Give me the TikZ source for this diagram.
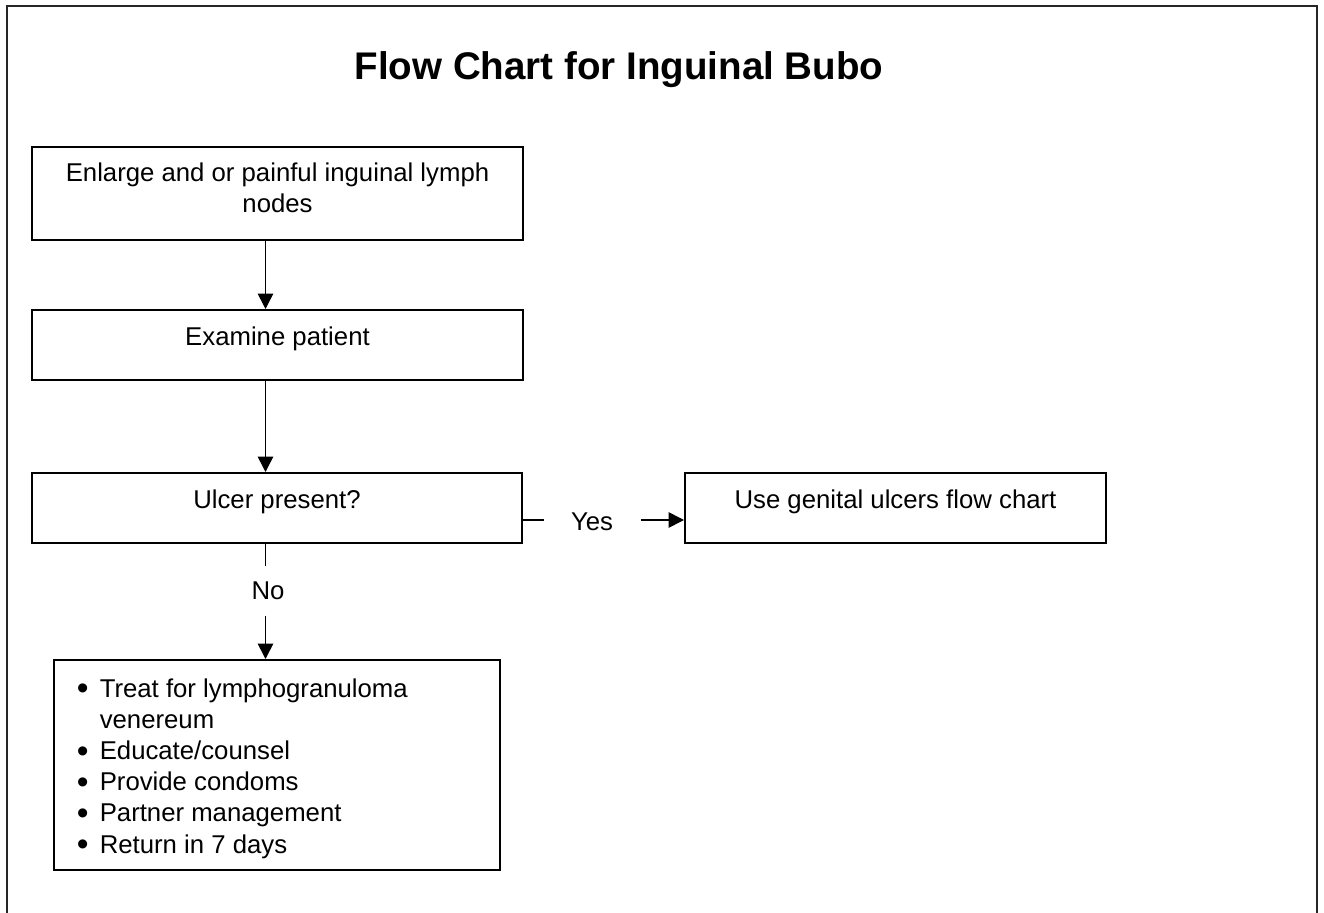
\documentclass[tikz,border=0pt]{standalone}
\usepackage{fontspec}
\setmainfont{Liberation Sans}
\usetikzlibrary{arrows.meta}

\newcommand{\bigdot}{\raisebox{-2.2pt}{\scalebox{1.3}{\textbullet}}}

\tikzset{every picture/.style={line width=0.75pt}}
\tikzset{
  bodyfont/.style={font=\fontsize{19.3pt}{22.5pt}\selectfont},
  chartbox/.style={draw, line width=1.5pt, inner sep=0pt, align=center, bodyfont},
  oneline/.style={text height=26.25pt, text depth=26.25pt},
  gap/.style={inner sep=0pt, bodyfont},
  link/.style={line width=1.2pt},
  arrow/.style={link, -{Triangle[length=11.5pt,width=11.5pt]}},
  frame/.style={draw=black!85, line width=2pt},
}

\begin{document}
\begin{tikzpicture}[x=0.75pt,y=0.75pt,yscale=-1,xscale=1]
\useasboundingbox (0,0) rectangle (1324,913);

%Page frame, open at the bottom
\draw[frame] (7,913) -- (7,6) -- (1317,6) -- (1317,913);

%Title
\node[font=\fontsize{28.9pt}{34pt}\selectfont\bfseries, anchor=base] (title) at (619,80) {Flow Chart for Inguinal Bubo};

%Shape: Rectangle [enlarge]
\node[chartbox, minimum width=368.25pt, text height=48.75pt, text depth=21pt] (enlarge) at (277.5,193.5)
  {Enlarge and or painful inguinal lymph\\nodes};
%Shape: Rectangle [examine]
\node[chartbox, oneline, minimum width=368.25pt] (examine) at (277.5,345) {Examine patient};
%Shape: Rectangle [ulcer]
\node[chartbox, oneline, minimum width=367.5pt] (ulcer) at (277,508) {Ulcer present?};
%Shape: Rectangle [genital]
\node[chartbox, oneline, minimum width=315.75pt] (genital) at (895.5,508) {Use genital ulcers flow chart};
%Shape: Rectangle [treat]
\node[chartbox, font=\fontsize{19.3pt}{23.4pt}\selectfont, inner xsep=16.875pt, minimum width=333pt,
      text height=27.75pt, text depth=129.75pt] (treat) at (277,765)
  {\begin{tabular}[t]{@{}l@{\hspace{8.4pt}}p{283pt}@{}}
    \bigdot & Treat for lymphogranuloma\\
            & venereum\\
    \bigdot & Educate/counsel\\
    \bigdot & Provide condoms\\
    \bigdot & Partner management\\
    \bigdot & Return in 7 days
  \end{tabular}};

%Labels on the branches
\node[gap, minimum width=72pt] (yeslabel) at (592,522) {Yes};
\node[gap, minimum height=36.75pt] (nolabel) at (268,590.5) {No};

%Straight Lines
\coordinate (spine) at (265.5,0);
\coordinate (yesrow) at (0,520);
\draw[arrow] (enlarge.south -| spine) -- (examine.north -| spine);
\draw[arrow] (examine.south -| spine) -- (ulcer.north -| spine);
\draw[link] (ulcer.east |- yesrow) -- (yeslabel.west |- yesrow);
\draw[arrow] (yeslabel.east |- yesrow) -- (genital.west |- yesrow);
\draw[link] (ulcer.south -| spine) -- (nolabel.north -| spine);
\draw[arrow] (nolabel.south -| spine) -- (treat.north -| spine);

\end{tikzpicture}
\end{document}
